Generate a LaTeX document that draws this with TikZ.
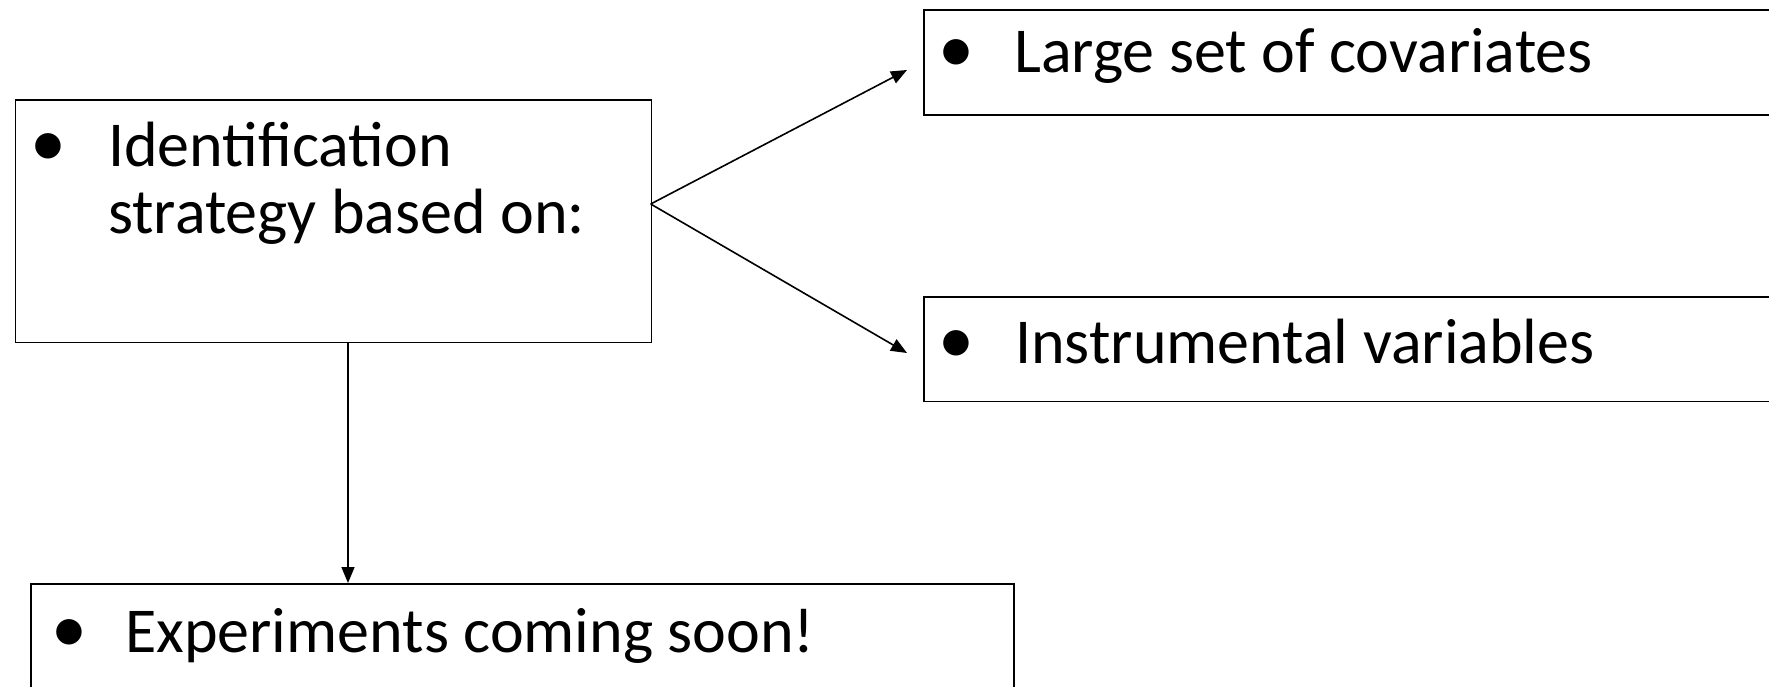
\documentclass[tikz,border=0pt]{standalone}
\usepackage{fontspec}
\setmainfont{Carlito}
\usetikzlibrary{arrows.meta}
\begin{document}
\begin{tikzpicture}[x=1pt,y=-1pt,
  box/.style={draw,line width=1.6pt,inner sep=0pt,anchor=north west},
  txt/.style={anchor=base west,inner sep=0pt,align=left,font=\fontsize{64}{67}\selectfont},
  conn/.style={line width=1.6pt,-{Triangle[length=16pt,width=13pt]}}]
\path[use as bounding box] (0,0) rectangle (1769,686);
% boxes
\node[box,minimum width=636pt,minimum height=242.4pt] (A) at (14.7,99.3) {};
\node[box,minimum width=870pt,minimum height=105pt] (B) at (923,9) {};
\node[box,minimum width=870pt,minimum height=104.5pt] (C) at (923,296) {};
\node[box,minimum width=983pt,minimum height=120pt] (D) at (30,583) {};
% texts
\node[txt,anchor=base] (Ab) at (48,166) {\fontsize{72}{67}\selectfont •};
\node[txt] (At) at (108,233) {Identification\\strategy based on:};
\node[txt,anchor=base] (Bb) at (956,72) {\fontsize{72}{67}\selectfont •};
\node[txt] (Bt) at (1014,72) {Large set of covariates};
\node[txt,anchor=base] (Cb) at (956,363) {\fontsize{72}{67}\selectfont •};
\node[txt] (Ct) at (1015,363) {Instrumental variables};
\node[txt,anchor=base] (Db) at (69,652) {\fontsize{72}{67}\selectfont •};
\node[txt] (Dt) at (125,652) {Experiments coming soon!};
% connectors
\coordinate (As) at (650.7,204);
\coordinate (Bend) at (907,70);
\coordinate (Cend) at (907,353);
\coordinate (Ad) at (348,341.7);
\draw[conn] (As) -- (Bend);
\draw[conn] (As) -- (Cend);
\draw[conn] (Ad) -- (Ad |- D.north);
\end{tikzpicture}
\end{document}
